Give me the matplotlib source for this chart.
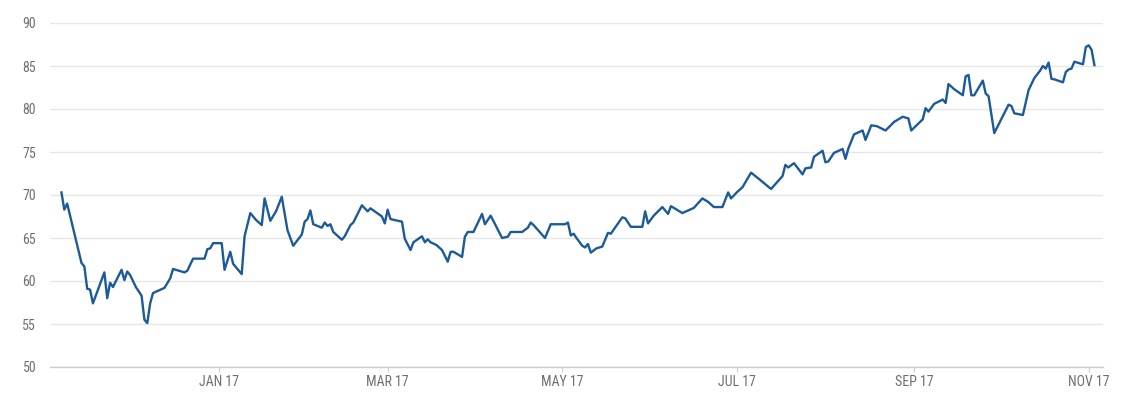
import pandas as pd
import matplotlib
matplotlib.use('Agg')
import matplotlib.pyplot as plt
from matplotlib import font_manager as fm

# values (date, price)
dates = [
    '2016-11-07', '2016-11-08', '2016-11-09', '2016-11-14', '2016-11-15', '2016-11-16',
    '2016-11-17', '2016-11-18', '2016-11-22', '2016-11-23', '2016-11-24', '2016-11-25',
    '2016-11-28', '2016-11-29', '2016-11-30', '2016-12-01', '2016-12-03', '2016-12-05',
    '2016-12-06', '2016-12-07', '2016-12-08', '2016-12-09', '2016-12-13', '2016-12-15',
    '2016-12-16', '2016-12-20', '2016-12-21', '2016-12-23', '2016-12-27', '2016-12-28',
    '2016-12-29', '2016-12-30', '2017-01-02', '2017-01-03', '2017-01-05', '2017-01-06',
    '2017-01-09', '2017-01-10', '2017-01-12', '2017-01-14', '2017-01-16', '2017-01-17',
    '2017-01-19', '2017-01-21', '2017-01-23', '2017-01-25', '2017-01-27', '2017-01-30',
    '2017-01-31', '2017-02-01', '2017-02-02', '2017-02-03', '2017-02-06', '2017-02-07',
    '2017-02-08', '2017-02-09', '2017-02-10', '2017-02-13', '2017-02-14', '2017-02-16',
    '2017-02-17', '2017-02-20', '2017-02-22', '2017-02-23', '2017-02-27', '2017-02-28',
    '2017-03-01', '2017-03-02', '2017-03-06', '2017-03-07', '2017-03-09', '2017-03-10',
    '2017-03-13', '2017-03-14', '2017-03-15', '2017-03-16', '2017-03-18', '2017-03-20',
    '2017-03-22', '2017-03-23', '2017-03-24', '2017-03-27', '2017-03-28', '2017-03-29',
    '2017-03-31', '2017-04-03', '2017-04-04', '2017-04-06', '2017-04-08', '2017-04-10',
    '2017-04-12', '2017-04-13', '2017-04-17', '2017-04-19', '2017-04-20', '2017-04-21',
    '2017-04-25', '2017-04-27', '2017-05-02', '2017-05-03', '2017-05-04', '2017-05-05',
    '2017-05-06', '2017-05-08', '2017-05-09', '2017-05-10', '2017-05-11', '2017-05-13',
    '2017-05-15', '2017-05-17', '2017-05-18', '2017-05-22', '2017-05-23', '2017-05-25',
    '2017-05-29', '2017-05-30', '2017-05-31', '2017-06-02', '2017-06-05', '2017-06-07',
    '2017-06-08', '2017-06-12', '2017-06-16', '2017-06-19', '2017-06-21', '2017-06-23',
    '2017-06-26', '2017-06-28', '2017-06-29', '2017-07-01', '2017-07-03', '2017-07-06',
    '2017-07-09', '2017-07-13', '2017-07-17', '2017-07-18', '2017-07-19', '2017-07-21',
    '2017-07-24', '2017-07-25', '2017-07-27', '2017-07-28', '2017-07-31', '2017-08-01',
    '2017-08-02', '2017-08-04', '2017-08-07', '2017-08-08', '2017-08-09', '2017-08-11',
    '2017-08-14', '2017-08-15', '2017-08-17', '2017-08-19', '2017-08-22', '2017-08-25',
    '2017-08-28', '2017-08-30', '2017-08-31', '2017-09-04', '2017-09-05', '2017-09-06',
    '2017-09-08', '2017-09-11', '2017-09-12', '2017-09-13', '2017-09-15', '2017-09-18',
    '2017-09-19', '2017-09-20', '2017-09-21', '2017-09-22', '2017-09-25', '2017-09-26',
    '2017-09-27', '2017-09-29', '2017-10-04', '2017-10-05', '2017-10-06', '2017-10-09',
    '2017-10-11', '2017-10-13', '2017-10-15', '2017-10-16', '2017-10-17', '2017-10-18',
    '2017-10-19', '2017-10-20', '2017-10-23', '2017-10-24', '2017-10-25', '2017-10-26',
    '2017-10-27', '2017-10-30', '2017-10-31', '2017-11-01', '2017-11-02', '2017-11-03',
]
prices = [
    70.3, 68.3, 69.0, 62.1, 61.7, 59.1,
    59.0, 57.4, 61.0, 58.0, 59.8, 59.3,
    61.3, 60.1, 61.1, 60.7, 59.3, 58.3,
    55.5, 55.1, 57.4, 58.6, 59.2, 60.3,
    61.4, 61.0, 61.2, 62.6, 62.6, 63.7,
    63.8, 64.4, 64.4, 61.3, 63.4, 62.0,
    60.8, 65.2, 67.9, 67.1, 66.5, 69.6,
    67.0, 68.1, 69.8, 65.9, 64.1, 65.4,
    66.9, 67.2, 68.2, 66.6, 66.2, 66.8,
    66.4, 66.6, 65.7, 64.8, 65.2, 66.5,
    66.8, 68.8, 68.1, 68.45, 67.5, 66.7,
    68.3, 67.2, 66.9, 64.9, 63.6, 64.5,
    65.2, 64.5, 64.85, 64.5, 64.2, 63.6,
    62.25, 63.4, 63.4, 62.8, 65.15, 65.7,
    65.7, 67.8, 66.6, 67.6, 66.3, 65.0,
    65.15, 65.7, 65.7, 66.2, 66.8, 66.5,
    65.0, 66.6, 66.6, 66.8, 65.3, 65.5,
    65.0, 64.1, 63.9, 64.3, 63.3, 63.8,
    64.0, 65.6, 65.5, 67.4, 67.3, 66.3,
    66.3, 68.1, 66.7, 67.6, 68.6, 67.8,
    68.7, 67.9, 68.5, 69.6, 69.2, 68.6,
    68.6, 70.3, 69.6, 70.3, 70.9, 72.6,
    71.8, 70.7, 72.2, 73.5, 73.2, 73.7,
    72.4, 73.1, 73.2, 74.45, 75.15, 73.8,
    73.9, 74.9, 75.35, 74.2, 75.4, 77.05,
    77.5, 76.4, 78.1, 78.0, 77.5, 78.5,
    79.1, 78.9, 77.5, 78.8, 80.1, 79.7,
    80.6, 81.1, 80.7, 82.9, 82.3, 81.6,
    83.8, 83.95, 81.6, 81.6, 83.3, 81.8,
    81.5, 77.2, 80.5, 80.35, 79.5, 79.3,
    82.2, 83.6, 84.45, 85.0, 84.7, 85.4,
    83.5, 83.45, 83.1, 84.3, 84.6, 84.7,
    85.5, 85.2, 87.2, 87.4, 86.9, 85.1,
]
y_ticks = [50, 55, 60, 65, 70, 75, 80, 85, 90]
x_ticks = ['2017-01-01', '2017-03-01', '2017-05-01', '2017-07-01', '2017-09-01', '2017-11-01']
x_labels = ['JAN 17', 'MAR 17', 'MAY 17', 'JUL 17', 'SEP 17', 'NOV 17']

df = pd.DataFrame({'date': pd.to_datetime(dates), 'price': prices})

# pick a narrow font if one is there
installed = set(f.name for f in fm.fontManager.ttflist)
fam = [f for f in ['Roboto Condensed', 'PT Sans Narrow', 'Archivo Narrow',
                   'Liberation Sans Narrow', 'Open Sans Condensed'] if f in installed]
fam = fam[:1] + ['DejaVu Sans']

fig = plt.figure(figsize=(11.24, 4.01), dpi=100)
ax = fig.add_axes([50 / 1124, 1 - 367 / 401, 1053 / 1124, 344 / 401])

ax.plot(df['date'], df['price'], color='#1d5a98', lw=1.7)

ax.set_ylim(50, 90)
ax.set_xlim(pd.Timestamp('2016-11-03'), pd.Timestamp('2017-11-06'))
ax.set_yticks(y_ticks)
ax.set_xticks(pd.to_datetime(x_ticks))
ax.set_xticklabels(x_labels)

# only horizontal grid lines + bottom axis
ax.grid(axis='y', color='#e6e6e6', lw=1)
ax.set_axisbelow(True)
for s in ['top', 'right', 'left']:
    ax.spines[s].set_visible(False)
ax.spines['bottom'].set_color('#cccccc')
ax.spines['bottom'].set_linewidth(1)

ax.tick_params(axis='y', length=0, pad=10, labelsize=10, labelcolor='#6f6f6f')
ax.tick_params(axis='x', length=3.6, color='#cccccc', pad=2.5, labelsize=10, labelcolor='#6f6f6f')
for lab in ax.get_xticklabels() + ax.get_yticklabels():
    lab.set_family(fam)

fig.savefig('out.png', dpi=100, facecolor='white')
